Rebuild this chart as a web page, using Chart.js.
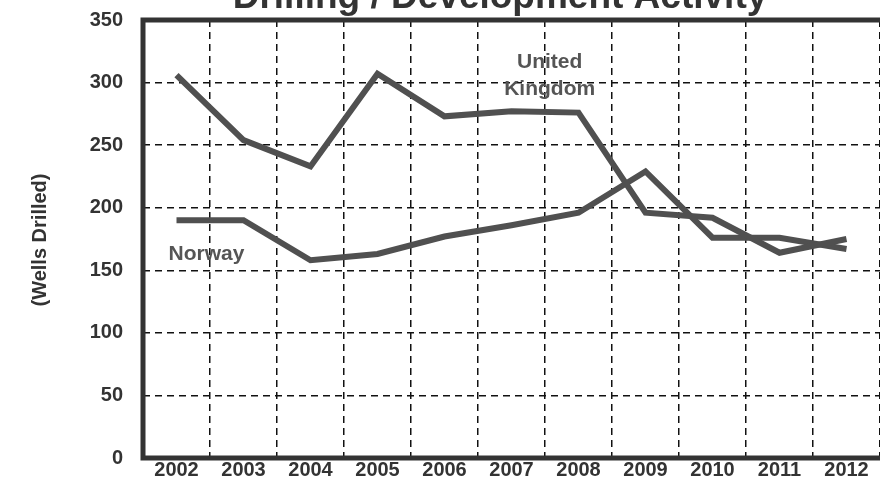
<!DOCTYPE html>
<html>
<head>
<meta charset="utf-8">
<script src="https://cdn.jsdelivr.net/npm/chart.js@4/dist/chart.umd.min.js"></script>
<style>
html,body{margin:0;padding:0;background:#fff;}
#wrap{width:880px;height:488px;position:relative;}
</style>
</head>
<body>
<div id="wrap"><canvas id="c" width="880" height="488"></canvas></div>
<script>
const years = ['2002','2003','2004','2005','2006','2007','2008','2009','2010','2011','2012'];
const unitedKingdom = [306, 254, 233, 307, 273, 277, 276, 196, 192, 164, 175];
const norway = [190, 190, 158, 163, 177, 186, 196, 229, 176, 176, 167];
const yTicks = [0, 50, 100, 150, 200, 250, 300, 350];
const titleText = 'Drilling / Development Activity';
const yTitle = '(Wells Drilled)';
const seriesLabels = [
  {lines: ['United', 'Kingdom'], x: 5.57, y: [316, 295], align: 'center'},
  {lines: ['Norway'], x: -0.12, y: [163], align: 'left'}
];

const TEXT = '#333333';
const LINE = '#505050';
const FONT = '"Liberation Sans", Arial, sans-serif';

const decor = {
  id: 'decor',
  afterDraw(chart) {
    const {ctx, chartArea: a, scales} = chart;
    ctx.save();
    // frame
    ctx.strokeStyle = '#333';
    ctx.lineWidth = 5;
    ctx.strokeRect(a.left, a.top, a.right - a.left + 6, a.bottom - a.top);
    // title (cut off at top)
    ctx.fillStyle = TEXT;
    ctx.font = 'bold 37px ' + FONT;
    ctx.textAlign = 'center';
    ctx.textBaseline = 'alphabetic';
    ctx.fillText(titleText, 500, 8);
    // y title
    ctx.save();
    ctx.translate(40, 240);
    ctx.rotate(-Math.PI / 2);
    ctx.font = 'bold 20px ' + FONT;
    ctx.textBaseline = 'middle';
    ctx.fillText(yTitle, 0, 0);
    ctx.restore();
    // series labels
    ctx.font = 'bold 21px ' + FONT;
    ctx.fillStyle = '#555';
    ctx.textBaseline = 'middle';
    seriesLabels.forEach(s => {
      ctx.textAlign = s.align;
      const px = scales.x.getPixelForValue(s.x);
      s.lines.forEach((t, i) => ctx.fillText(t, px, scales.y.getPixelForValue(s.y[i])));
    });
    ctx.restore();
  }
};

new Chart(document.getElementById('c'), {
  type: 'line',
  data: {
    labels: years,
    datasets: [
      {label: 'United Kingdom', data: unitedKingdom, borderColor: LINE, borderWidth: 6, pointRadius: 0, tension: 0, fill: false, borderJoinStyle: 'miter'},
      {label: 'Norway', data: norway, borderColor: LINE, borderWidth: 6, pointRadius: 0, tension: 0, fill: false, borderJoinStyle: 'miter'}
    ]
  },
  options: {
    responsive: false,
    animation: false,
    layout: {padding: {top: 20, right: 0, bottom: 0, left: 0}},
    plugins: {legend: {display: false}, title: {display: false}, tooltip: {enabled: false}},
    scales: {
      x: {
        offset: true,
        grid: {offset: true, color: '#111', lineWidth: 1.5, drawTicks: false},
        border: {display: false, dash: [7, 5]},
        ticks: {color: TEXT, font: {family: FONT, size: 20, weight: 'bold'}, padding: 0, maxRotation: 0, autoSkip: false},
        afterFit(s) { s.height = 30; s.paddingLeft = 0; s.paddingRight = 0; }
      },
      y: {
        min: 0, max: 350,
        afterBuildTicks(s) { s.ticks = yTicks.map(v => ({value: v})); },
        grid: {color: '#111', lineWidth: 1.5, drawTicks: false},
        border: {display: false, dash: [7, 5]},
        ticks: {color: TEXT, font: {family: FONT, size: 20, weight: 'bold'}, padding: 20},
        afterFit(s) { s.width = 143; s.paddingTop = 0; s.paddingBottom = 0; }
      }
    }
  },
  plugins: [decor]
});
</script>
</body>
</html>
